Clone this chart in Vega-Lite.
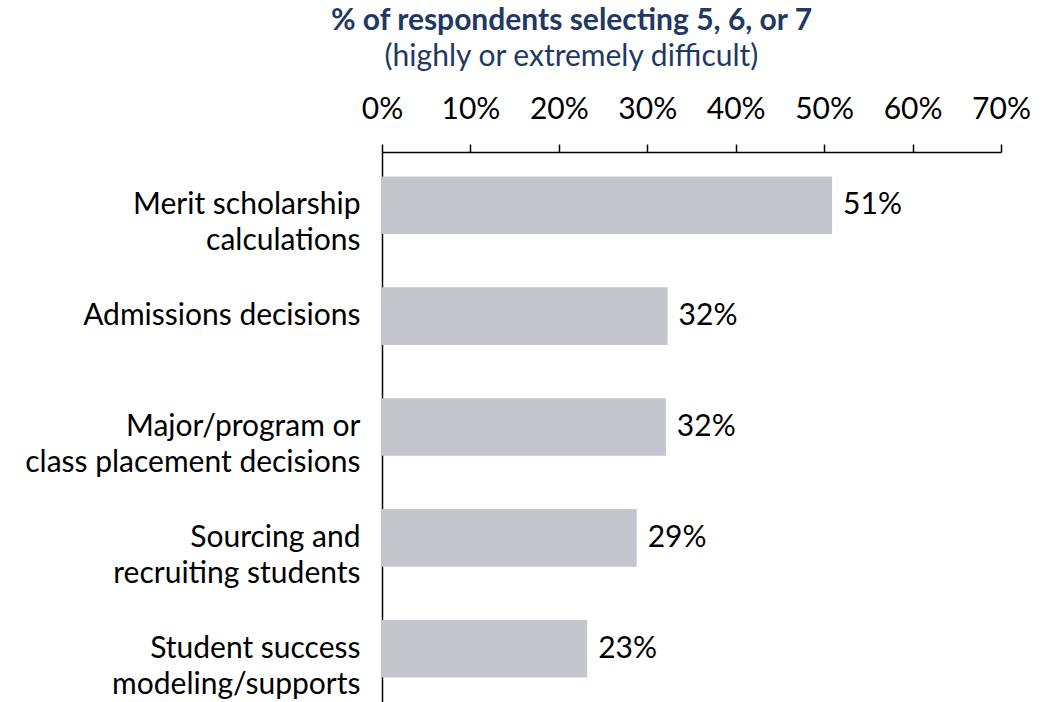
{
  "$schema": "https://vega.github.io/schema/vega-lite/v6.json",
  "autosize": "none",
  "padding": {"left": 382, "top": 152, "right": 53, "bottom": 0},
  "width": 619,
  "height": 550,
  "background": "white",
  "config": {
    "font": "Lato",
    "view": {"stroke": null}
  },
  "title": {
    "text": "% of respondents selecting 5, 6, or 7",
    "subtitle": "(highly or extremely difficult)",
    "font": "Lato",
    "fontSize": 30,
    "fontWeight": "bold",
    "color": "#1F3864",
    "subtitleFont": "Lato",
    "subtitleFontSize": 30,
    "subtitleFontWeight": "normal",
    "subtitleColor": "#1F3864",
    "subtitlePadding": 6,
    "anchor": "middle",
    "dx": -120,
    "offset": 22
  },
  "data": {
    "values": [
      {"category": "Merit scholarship\u00a0|calculations", "value": 0.509},
      {"category": "Admissions decisions", "value": 0.323},
      {"category": "Major/program or\u00a0|class placement decisions", "value": 0.321},
      {"category": "Sourcing and\u00a0|recruiting students", "value": 0.288},
      {"category": "Student success\u00a0|modeling/supports", "value": 0.232}
    ]
  },
  "encoding": {
    "y": {
      "field": "category",
      "type": "nominal",
      "sort": null,
      "scale": {"paddingInner": 0.48, "paddingOuter": 0.22},
      "axis": {
        "title": null,
        "ticks": false,
        "domainColor": "#000000",
        "domainWidth": 1.5,
        "labelPadding": 22,
        "labelFontSize": 30,
        "labelColor": "#000000",
        "labelLineHeight": 36,
        "labelLimit": 500,
        "labelExpr": "split(datum.label, '|')"
      }
    },
    "x": {
      "field": "value",
      "type": "quantitative",
      "scale": {"domain": [0, 0.7], "nice": false},
      "axis": {
        "orient": "top",
        "title": null,
        "format": ".0%",
        "values": [0, 0.1, 0.2, 0.3, 0.4, 0.5, 0.6, 0.7],
        "grid": false,
        "domainColor": "#000000",
        "domainWidth": 1.5,
        "tickColor": "#000000",
        "tickWidth": 1.5,
        "tickSize": 8,
        "labelPadding": 20,
        "labelFontSize": 30,
        "labelColor": "#000000",
        "labelFlush": false
      }
    }
  },
  "layer": [
    {"mark": {"type": "bar", "color": "#C5C5CD"}},
    {
      "mark": {"type": "text", "align": "left", "baseline": "middle", "dx": 11, "fontSize": 30, "color": "#000000"},
      "encoding": {"text": {"field": "value", "type": "quantitative", "format": ".0%"}}
    }
  ]
}
